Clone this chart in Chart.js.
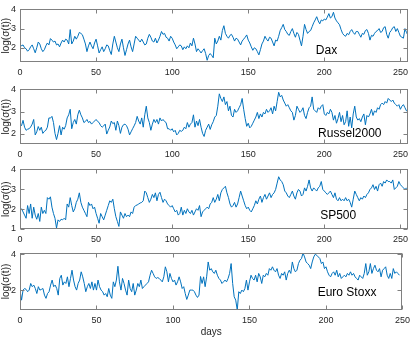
<!DOCTYPE html>
<html>
<head>
<meta charset="utf-8">
<script src="https://cdn.jsdelivr.net/npm/chart.js@4.4.0/dist/chart.umd.min.js"></script>
<style>
  body { margin: 0; background: #fff; }
  #wrap { position: relative; width: 415px; height: 338px; overflow: hidden; }
  canvas { position: absolute; left: 0; }
</style>
</head>
<body>
<div id="wrap">
  <canvas id="p1" width="415" height="80" style="top:0px"></canvas>
  <canvas id="p2" width="415" height="82" style="top:80px"></canvas>
  <canvas id="p3" width="415" height="87" style="top:160px"></canvas>
  <canvas id="p4" width="415" height="98" style="top:240px"></canvas>
</div>
<script>
// log volatility per trading day
const dax = [
  2.20,2.10,2.15,2.00,1.95,1.82,1.90,2.05,2.15,1.95,
  1.74,2.00,2.30,2.20,1.95,1.80,1.90,2.10,2.25,2.15,
  2.48,2.40,2.30,2.35,2.15,2.20,2.05,2.25,2.40,2.30,
  2.45,2.40,2.20,2.95,2.20,2.35,2.60,2.45,2.60,2.80,
  2.75,2.68,2.45,2.20,1.80,2.10,2.30,2.10,1.95,2.25,
  2.45,2.10,1.73,1.90,2.05,1.80,1.95,2.15,2.10,1.85,
  1.65,2.20,2.60,2.30,2.00,1.80,2.20,2.45,2.00,1.60,
  1.90,2.20,2.40,2.05,1.80,2.20,2.60,2.50,2.40,2.30,
  2.45,2.30,2.15,2.20,2.50,2.70,2.55,2.35,2.30,2.50,
  2.25,2.40,2.60,2.85,2.70,2.75,2.55,2.50,2.35,2.60,
  2.50,2.30,2.15,1.95,2.05,2.15,2.10,1.90,2.05,1.95,
  2.10,2.00,2.25,2.10,2.50,2.20,1.80,1.95,1.85,1.73,
  1.85,1.95,1.70,1.35,1.60,1.70,1.60,1.48,2.50,2.20,
  2.35,2.60,2.40,2.90,3.15,2.75,2.60,2.50,2.65,2.70,
  2.55,2.35,2.50,2.45,2.30,2.15,2.35,2.45,2.55,2.67,
  2.40,2.25,2.05,1.87,2.00,1.95,1.80,1.63,1.90,2.20,
  2.35,2.60,2.45,2.35,2.55,2.50,2.30,2.10,2.40,2.35,
  2.60,2.90,3.05,3.22,2.95,2.85,2.70,2.65,2.85,3.00,
  2.75,2.55,2.80,2.70,2.40,2.10,2.60,3.22,2.95,2.75,
  2.85,2.90,3.10,3.30,3.45,3.62,3.40,3.25,3.45,3.40,
  3.50,3.45,3.60,3.78,3.55,3.62,3.85,3.55,3.40,3.30,
  3.20,2.95,2.75,2.65,2.60,2.75,2.68,2.85,2.95,2.80,
  2.70,2.85,2.85,2.70,2.55,2.75,2.70,2.90,2.95,2.75,
  2.40,2.65,2.60,2.75,2.85,2.90,3.00,2.80,2.85,3.05,
  3.10,2.70,2.50,2.80,2.90,3.05,3.10,2.85,3.00,2.80,
  2.60,2.55,2.50,3.00,2.80,2.65
];
const russel2000 = [
  2.43,2.36,2.60,2.29,2.15,2.20,2.22,2.30,2.43,2.64,
  1.94,2.08,2.32,2.15,2.29,2.01,2.10,2.15,2.29,2.71,
  2.70,2.78,2.50,2.01,1.73,2.01,2.36,1.94,2.29,2.20,
  2.36,2.71,2.85,3.10,2.22,2.50,2.64,2.43,2.85,3.06,
  2.85,2.71,2.50,2.55,2.64,2.50,2.55,2.43,2.50,2.57,
  2.64,2.55,2.50,2.36,2.29,2.35,2.43,1.98,2.15,2.30,
  2.57,2.45,2.50,2.15,2.57,2.36,2.01,2.29,2.40,2.43,
  2.36,2.20,1.94,2.08,2.22,2.35,2.50,2.78,2.57,2.43,
  2.71,2.29,2.85,3.24,2.71,2.50,2.15,2.43,2.64,2.50,
  2.64,2.43,2.71,2.57,2.64,2.55,2.50,2.22,2.22,2.15,
  2.22,2.08,2.15,1.94,2.01,2.15,2.10,2.15,2.29,2.22,
  2.50,2.29,2.43,2.50,2.85,2.29,2.57,2.36,2.64,2.29,
  2.01,1.87,2.15,2.29,2.43,2.19,2.40,2.54,2.75,2.82,
  3.24,3.80,3.59,3.45,3.66,3.31,3.45,3.03,3.24,2.82,
  2.75,3.10,2.96,3.03,3.17,3.31,3.59,3.10,2.68,2.33,
  2.47,2.26,2.33,2.47,2.61,2.75,2.96,2.68,2.89,2.75,
  2.96,2.89,3.10,2.96,3.03,3.17,2.89,3.24,3.03,3.45,
  3.87,3.66,3.73,3.52,3.38,3.24,3.31,3.17,3.03,2.96,
  2.61,2.82,3.24,3.10,2.96,3.03,3.17,2.82,2.68,2.96,
  3.17,3.24,3.66,3.10,3.03,2.96,3.17,3.10,3.24,3.31,
  2.89,2.82,2.96,2.89,3.10,2.96,2.61,2.82,2.47,2.68,
  2.96,2.54,2.82,2.40,2.54,3.03,2.33,2.75,2.26,2.89,
  3.24,2.75,2.61,2.68,2.54,2.75,2.89,2.40,2.82,2.75,
  2.89,3.10,2.82,3.03,2.96,3.17,3.10,3.31,3.38,3.31,
  3.45,3.38,3.59,3.52,3.45,3.52,3.38,3.31,3.24,3.31,
  3.10,3.24,3.31,3.17,3.03,3.03
];
const sp500 = [
  1.94,2.02,1.86,1.70,1.54,2.18,1.78,2.26,1.54,2.10,
  1.70,1.49,1.78,1.38,2.10,1.78,1.94,1.78,2.58,2.50,
  2.62,2.10,1.78,1.54,1.05,1.46,1.38,1.49,1.46,1.54,
  1.46,2.26,2.10,2.58,2.18,1.86,2.02,2.34,2.50,2.82,
  2.34,2.10,1.94,1.78,1.62,2.34,2.18,2.26,2.02,2.10,
  1.78,1.54,1.29,1.78,1.62,1.46,1.70,1.94,2.18,2.42,
  2.34,2.50,2.02,1.62,1.38,1.13,1.86,1.70,1.54,1.78,
  1.62,1.70,1.62,1.86,1.78,2.10,2.18,2.21,2.26,2.31,
  2.34,2.42,2.91,2.82,2.58,2.34,2.50,2.74,2.58,2.82,
  2.42,2.74,2.85,2.58,2.34,2.50,2.42,2.26,2.18,2.10,
  2.18,2.02,1.86,1.94,1.70,1.78,2.10,1.70,1.94,1.78,
  2.02,1.86,1.78,1.94,1.70,1.86,2.02,1.94,2.18,1.62,
  1.86,1.94,2.02,2.10,2.02,2.26,2.34,2.58,2.34,2.50,
  2.74,2.42,2.82,2.99,3.07,3.15,2.82,2.58,2.26,2.10,
  2.18,2.34,2.10,2.26,2.58,2.91,2.66,2.42,2.18,2.02,
  2.10,1.94,1.86,2.02,2.18,2.42,2.26,2.50,2.66,2.34,
  2.58,2.74,2.50,2.66,2.82,2.58,2.74,2.82,2.99,3.31,
  3.63,3.47,3.39,3.23,2.91,2.82,2.66,2.58,2.74,2.91,
  2.66,2.50,2.82,2.99,2.91,2.66,2.74,3.07,2.91,3.15,
  3.47,3.07,2.91,3.07,2.99,2.91,3.07,3.15,3.39,2.99,
  2.91,2.82,2.74,2.82,2.91,2.74,2.58,2.82,2.50,2.42,
  2.58,2.42,2.50,2.42,2.58,2.42,2.50,2.34,2.10,2.50,
  2.91,2.74,2.58,2.42,2.58,2.50,2.66,2.58,2.74,2.82,
  2.99,3.07,3.23,2.99,3.15,2.91,3.23,3.31,3.15,3.39,
  3.31,3.47,3.39,3.39,3.31,3.47,2.99,3.07,3.15,3.39,
  3.23,3.15,3.07,2.99,3.07,2.99
];
const euroStoxx = [
  2.00,1.44,2.00,2.09,2.04,1.91,2.00,2.37,2.19,2.28,
  2.09,1.81,2.19,2.00,2.04,2.09,1.72,1.54,1.81,1.91,
  2.28,2.56,2.19,2.28,2.09,1.72,2.65,2.83,2.28,2.46,
  2.37,2.74,2.19,2.65,3.11,2.56,2.19,2.00,2.37,2.56,
  3.02,2.74,2.37,1.91,2.19,2.37,2.09,2.46,2.00,2.37,
  2.00,2.56,2.19,2.00,1.91,1.72,1.81,1.63,2.09,1.72,
  1.54,2.46,2.19,2.56,3.33,2.46,2.00,2.65,2.37,2.00,
  1.72,2.56,2.09,1.91,2.37,1.72,2.00,2.37,2.19,2.56,
  2.09,2.19,2.28,2.37,2.46,2.83,3.11,2.93,2.74,2.65,
  2.70,2.65,2.56,2.46,2.74,3.30,3.02,2.46,2.93,2.65,
  2.46,2.56,2.28,2.46,2.74,2.46,2.09,2.19,1.81,1.48,
  1.72,2.00,2.00,2.00,1.91,1.72,1.59,1.72,2.76,2.37,
  2.74,2.19,2.74,3.57,3.11,3.20,3.02,2.93,3.11,2.83,
  2.65,2.56,2.37,2.46,2.56,2.46,2.65,2.93,3.48,2.37,
  1.63,1.44,0.89,1.91,1.81,2.00,1.91,2.09,2.56,2.00,
  2.46,2.83,2.65,2.56,2.83,2.46,2.93,2.74,2.37,2.83,
  2.74,2.93,2.83,3.20,3.11,3.30,3.11,3.02,3.20,2.83,
  2.65,2.93,2.83,3.02,2.56,2.93,3.11,2.93,3.57,3.20,
  3.02,3.11,3.48,3.67,3.76,4.07,3.85,3.57,3.48,3.39,
  3.20,3.57,3.85,4.00,3.94,3.85,3.76,3.48,3.57,3.20,
  3.30,3.02,2.83,2.74,2.93,3.02,2.83,3.11,2.74,2.93,
  2.65,2.74,2.83,2.74,2.93,2.83,3.02,2.83,2.93,2.74,
  2.65,2.56,2.83,2.74,2.65,2.93,3.48,2.83,3.02,3.48,
  2.93,3.20,3.39,3.11,3.02,3.20,2.74,3.11,3.20,3.30,
  2.83,2.65,2.93,2.65,3.20,2.93,3.02,2.93,2.83
];

const seriesNames = ['Dax', 'Russel2000', 'SP500', 'Euro Stoxx'];
const xTicks = [0, 50, 100, 150, 200, 250];
const yTicksDax = [2, 3, 4];
const yTicksRussel = [2, 3, 4];
const yTicksSp = [1, 2, 3, 4];
const yTicksEuro = [2, 4];

const ink = '#262626';
const font = '"Liberation Sans", Arial, Helvetica, sans-serif';

// panel layout: canvas, padding, axis ranges, label placement
const panels = [
  { id: 'p1', data: dax, yTicks: yTicksDax, yMin: 1.26, yMax: 4, xMax: 255, padTop: 4, padRight: 7, xAxisH: 18, lx: 0.79, ly: 0.78 },
  { id: 'p2', data: russel2000, yTicks: yTicksRussel, yMin: 1.53, yMax: 4, xMax: 255, padTop: 6, padRight: 7, xAxisH: 18, lx: 0.85, ly: 0.81 },
  { id: 'p3', data: sp500, yTicks: yTicksSp, yMin: 1, yMax: 4, xMax: 255, padTop: 7, padRight: 7, xAxisH: 18, lx: 0.82, ly: 0.77 },
  { id: 'p4', data: euroStoxx, yTicks: yTicksEuro, yMin: 0.89, yMax: 4.07, xMax: 250, padTop: 13, padRight: 8, xAxisH: 28, lx: 0.855, ly: 0.70, days: true }
];

// matlab style box with inward ticks + series name
const boxPlugin = {
  id: 'box',
  afterDatasetsDraw(chart, args, opts) {
    const { ctx, chartArea: a, scales: { x, y } } = chart;
    const L = Math.round(a.left) + 0.5, R = Math.round(a.right) - 0.5;
    const T = Math.round(a.top) + 0.5, B = Math.round(a.bottom) - 0.5;
    ctx.save();
    ctx.strokeStyle = '#808080';
    ctx.lineWidth = 1;
    ctx.strokeRect(L, T, R - L, B - T);
    ctx.beginPath();
    x.ticks.forEach(t => {
      const px = Math.round(x.getPixelForValue(t.value)) + 0.5;
      ctx.moveTo(px, B); ctx.lineTo(px, B - 4);
      ctx.moveTo(px, T); ctx.lineTo(px, T + 4);
    });
    y.ticks.forEach(t => {
      const py = Math.round(y.getPixelForValue(t.value)) + 0.5;
      ctx.moveTo(L, py); ctx.lineTo(L + 4, py);
      ctx.moveTo(R, py); ctx.lineTo(R - 4, py);
    });
    ctx.stroke();
    ctx.fillStyle = '#000';
    ctx.font = '12px ' + font;
    ctx.textAlign = 'center';
    ctx.textBaseline = 'middle';
    ctx.fillText(opts.text, a.left + opts.fx * (a.right - a.left), a.top + opts.fy * (a.bottom - a.top));
    ctx.restore();
  }
};

panels.forEach((p, i) => {
  new Chart(document.getElementById(p.id), {
    type: 'line',
    data: {
      datasets: [{
        data: p.data.map((v, d) => ({ x: d, y: v })),
        borderColor: '#0072BD',
        borderWidth: 1,
        pointRadius: 0,
        tension: 0,
        fill: false
      }]
    },
    options: {
      responsive: false,
      animation: false,
      events: [],
      layout: { padding: { top: p.padTop, right: p.padRight, left: 0, bottom: 0 } },
      plugins: {
        legend: { display: false },
        tooltip: { enabled: false },
        box: { text: seriesNames[i], fx: p.lx, fy: p.ly }
      },
      scales: {
        x: {
          type: 'linear',
          min: 0,
          max: p.xMax,
          afterBuildTicks: s => { s.ticks = xTicks.map(v => ({ value: v })); },
          afterFit: s => { s.height = p.xAxisH; },
          grid: { display: false, drawTicks: false, tickLength: 0 },
          border: { display: false },
          ticks: { color: ink, font: { family: font, size: 9 }, padding: 5, maxRotation: 0, autoSkip: false },
          title: {
            display: !!p.days,
            text: 'days',
            color: ink,
            font: { family: font, size: 10 },
            padding: { top: 0, bottom: 0 }
          }
        },
        y: {
          min: p.yMin,
          max: p.yMax,
          afterBuildTicks: s => { s.ticks = p.yTicks.map(v => ({ value: v })); },
          afterFit: s => { s.width = 20; },
          grid: { display: false, drawTicks: false, tickLength: 0 },
          border: { display: false },
          ticks: { color: ink, font: { family: font, size: 9 }, padding: 4, autoSkip: false },
          title: {
            display: true,
            text: 'log(σ(t))',
            color: ink,
            font: { family: font, size: 10 },
            padding: { top: 0, bottom: 0 }
          }
        }
      }
    },
    plugins: [boxPlugin]
  });
});
</script>
</body>
</html>
